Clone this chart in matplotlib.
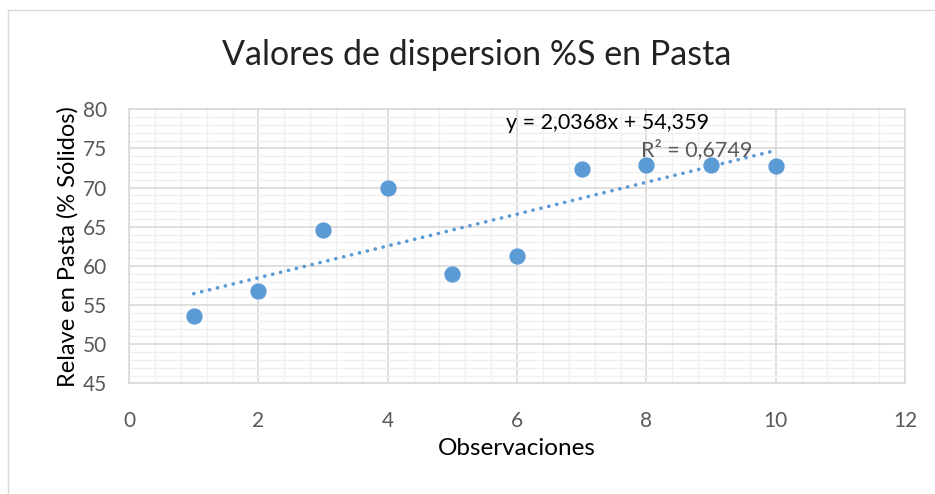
import numpy as np
import matplotlib
matplotlib.use("Agg")
from matplotlib import pyplot as plt
from matplotlib.patches import Rectangle
from matplotlib.ticker import MultipleLocator

plt.rcParams['font.family'] = ['Lato', 'DejaVu Sans']

# data
observaciones = [1, 2, 3, 4, 5, 6, 7, 8, 9, 10]
relave = [53.6, 56.8, 64.6, 69.9, 59.0, 61.2, 72.4, 72.85, 72.85, 72.7]
ecuacion = "y = 2,0368x + 54,359"
r2_texto = "R² = 0,6749"

blue = '#5B9BD5'
gray_txt = '#595959'

fig = plt.figure(figsize=(9.35, 4.94), dpi=100)
ax = fig.add_axes([0.138, 0.224, 0.830, 0.555])

# outer chart border (top/left visible only)
fig.patches.append(Rectangle((8 / 935, -0.1), 1.2, 1 - 10 / 494 + 0.1,
                             transform=fig.transFigure, fill=False,
                             edgecolor='#D9D9D9', lw=1))

ax.scatter(observaciones, relave, s=115, color=blue, zorder=3)

# linear trendline
m, b = np.polyfit(observaciones, relave, 1)
xt = np.array([min(observaciones), max(observaciones)])
ax.plot(xt, m * xt + b, color=blue, lw=2.6, linestyle=(0, (0.05, 2.2)),
        dash_capstyle='round', zorder=4)

ax.set_xlim(0, 12)
ax.set_ylim(45, 80)
ax.xaxis.set_major_locator(MultipleLocator(2))
ax.xaxis.set_minor_locator(MultipleLocator(0.4))
ax.yaxis.set_major_locator(MultipleLocator(5))
ax.yaxis.set_minor_locator(MultipleLocator(1))
ax.grid(which='major', color='#D9D9D9', lw=1.2)
ax.grid(which='minor', color='#F0F0F0', lw=1.0)
ax.set_axisbelow(True)
ax.tick_params(which='both', length=0)
ax.tick_params(axis='x', pad=20, labelsize=15, labelcolor=gray_txt)
ax.tick_params(axis='y', pad=16, labelsize=15, labelcolor=gray_txt)
for s in ax.spines.values():
    s.set_color('#D9D9D9')
    s.set_linewidth(1.2)

fig.text(477 / 935, 1 - 55 / 494, 'Valores de dispersion %S en Pasta',
         fontsize=24.5, color='#222222', ha='center', va='center')
ax.set_xlabel('Observaciones', fontsize=17.5, labelpad=5)
ax.set_ylabel('Relave en Pasta (% Sólidos)', fontsize=17, labelpad=3)

ax.text(5.83, 78.2, ecuacion, fontsize=15.5, color='black', va='center')
ax.text(7.91, 74.8, r2_texto, fontsize=15.5, color=gray_txt, va='center', zorder=5)

fig.savefig('out.png', dpi=100)
